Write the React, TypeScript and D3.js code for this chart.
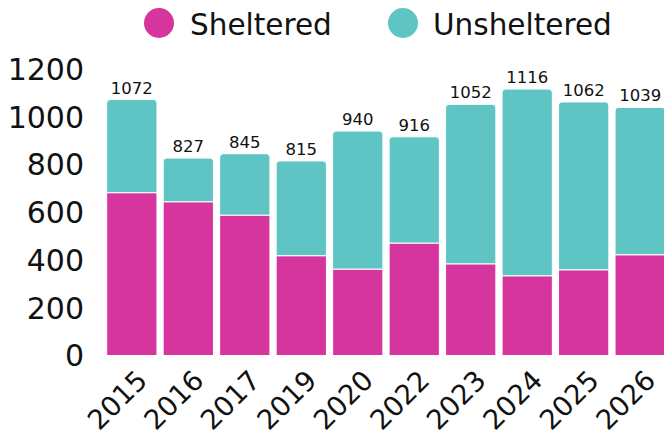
import React from "react";
import * as d3 from "d3";

const years = ["2015", "2016", "2017", "2019", "2020", "2022", "2023", "2024", "2025", "2026"];
const sheltered = [682, 644, 588, 418, 362, 471, 384, 334, 359, 422];
const totals = [1072, 827, 845, 815, 940, 916, 1052, 1116, 1062, 1039];
const unsheltered = totals.map((t, i) => t - sheltered[i]);
const yTicks = [0, 200, 400, 600, 800, 1000, 1200];
const seriesNames = ["Sheltered", "Unsheltered"];
const colors = ["#D6359E", "#5EC5C4"];

const W = 664, H = 436;
const FONT = "'DejaVu Sans', sans-serif";

function topRounded(x: number, y: number, w: number, h: number, r: number) {
  const rr = Math.min(r, h, w / 2);
  return `M${x},${y + h}V${y + rr}Q${x},${y} ${x + rr},${y}H${x + w - rr}Q${x + w},${y} ${x + w},${y + rr}V${y + h}Z`;
}

export default function App() {
  const x = d3.scaleBand().domain(years).range([105, 667]).paddingInner(0.11).paddingOuter(0.03);
  const y = d3.scaleLinear().domain([0, 1200]).range([355.5, 69]);
  const bw = x.bandwidth();
  return (
    <svg width={W} height={H} style={{ position: "absolute", left: 0, top: 0 }}>
      <rect width={W} height={H} fill="#fff" />
      {/* legend */}
      <circle cx={159} cy={23} r={15} fill={colors[0]} />
      <text x={190} y={35} fontFamily={FONT} fontSize={29.5} fill="#111">{seriesNames[0]}</text>
      <circle cx={403} cy={23} r={15} fill={colors[1]} />
      <text x={433} y={35} fontFamily={FONT} fontSize={29.5} fill="#111">{seriesNames[1]}</text>
      {/* y axis labels */}
      {yTicks.map((t) => (
        <text key={t} x={84} y={y(t)} dy="0.36em" textAnchor="end" fontFamily={FONT} fontSize={30} fill="#111">{t}</text>
      ))}
      {/* bars */}
      {years.map((yr, i) => {
        const x0 = x(yr)!;
        const s = sheltered[i];
        const u = unsheltered[i];
        return (
          <g key={yr}>
            <rect x={x0} y={y(s)} width={bw} height={y(0) - y(s)} fill={colors[0]} stroke="#fff" strokeWidth={1} />
            <path d={topRounded(x0, y(s + u), bw, y(s) - y(s + u), 3.5)} fill={colors[1]} stroke="#fff" strokeWidth={1} />
            <text x={x0 + bw / 2} y={y(totals[i]) - 6} textAnchor="middle" fontFamily={FONT} fontSize={16.5} fill="#111">{totals[i]}</text>
            <text transform={`translate(${x0 + bw / 2 + 3},${368}) rotate(-45)`} textAnchor="end" dy="0.72em" fontFamily={FONT} fontSize={27.5} fill="#111">{yr}</text>
          </g>
        );
      })}
    </svg>
  );
}
